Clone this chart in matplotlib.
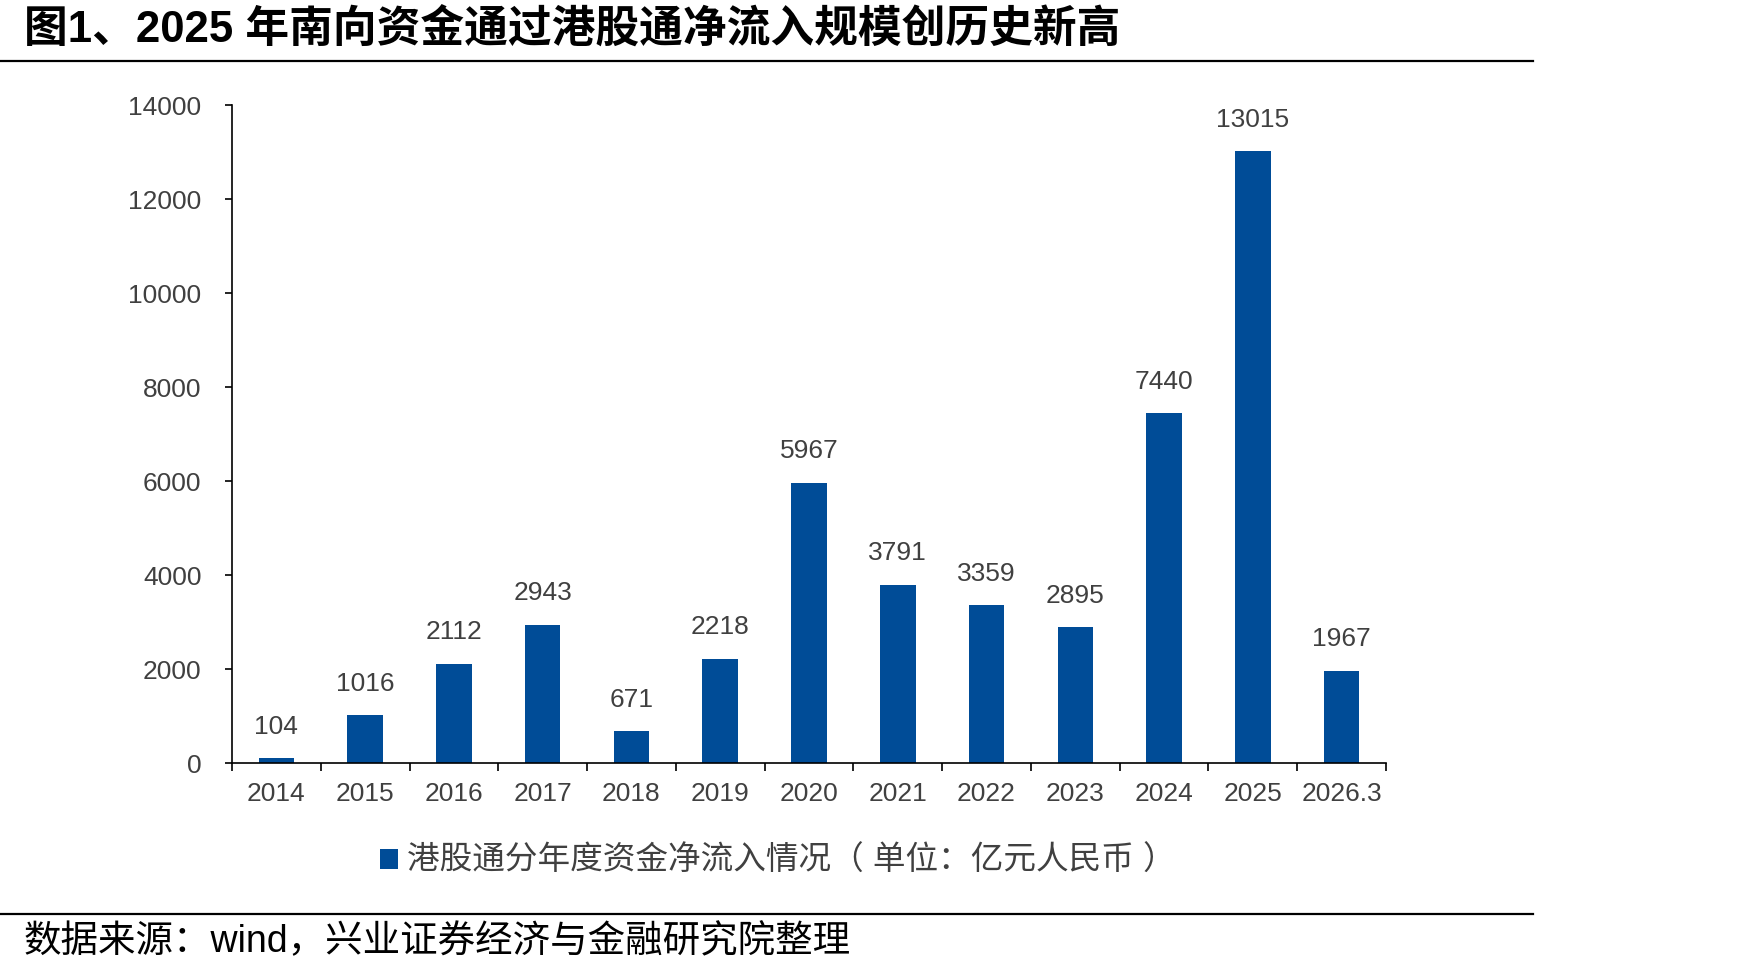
import matplotlib
matplotlib.use("Agg")
import matplotlib.pyplot as plt
from matplotlib.lines import Line2D

# data (亿元人民币)
years = ['2014', '2015', '2016', '2017', '2018', '2019', '2020',
         '2021', '2022', '2023', '2024', '2025', '2026.3']
inflow = [104, 1016, 2112, 2943, 671, 2218, 5967,
          3791, 3359, 2895, 7440, 13015, 1967]
yticks = [0, 2000, 4000, 6000, 8000, 10000, 12000, 14000]

title = '图1、2025 年南向资金通过港股通净流入规模创历史新高'
legend_label = '港股通分年度资金净流入情况（ 单位：亿元人民币 ）'
source = '数据来源：wind，兴业证券经济与金融研究院整理'

fonts = ['Liberation Sans', 'Noto Sans CJK SC']
plt.rcParams['font.family'] = fonts

bar_color = '#004C97'
grey = '#404040'

fig = plt.figure(figsize=(17.48, 9.76), dpi=100)
ax = fig.add_axes([0.1327, 0.2182, 0.6602, 0.6742])

x = list(range(len(years)))
bars = ax.bar(x, inflow, width=0.4, color=bar_color, label=legend_label)

for xi, v in zip(x, inflow):
    ax.annotate(str(v), (xi, v), xytext=(0, 14), textcoords='offset points',
                ha='center', va='bottom', fontsize=19, color=grey)

ax.set_xlim(-0.5, len(years) - 0.5)
ax.set_ylim(0, 14000)
ax.set_yticks(yticks)
ax.set_yticklabels([str(t) for t in yticks])

# category labels centred, tick marks on the boundaries
ax.set_xticks([i - 0.5 for i in range(len(years) + 1)])
ax.set_xticklabels([])
ax.set_xticks(x, minor=True)
ax.set_xticklabels(years, minor=True)
ax.tick_params(axis='x', which='major', direction='out', length=6, width=1.2, color='black')
ax.tick_params(axis='x', which='minor', length=0, pad=14, labelsize=19, labelcolor=grey)
ax.tick_params(axis='y', direction='out', length=5, width=1.2, pad=17,
               labelsize=19, labelcolor=grey)

for s in ['top', 'right']:
    ax.spines[s].set_visible(False)
for s in ['left', 'bottom']:
    ax.spines[s].set_linewidth(1.2)
    ax.spines[s].set_color('black')

leg = fig.legend(handles=[bars], labels=[legend_label], loc='center',
                 bbox_to_anchor=(0.445, 0.117), frameon=False,
                 handlelength=0.55, handleheight=0.55, handletextpad=0.3,
                 prop={'family': fonts, 'size': 23.5})
for t in leg.get_texts():
    t.set_color(grey)

fig.text(0.0137, 0.969, title, fontsize=31.5, fontweight='bold',
         ha='left', va='center', color='black')
fig.add_artist(Line2D([0, 0.877], [0.9375, 0.9375], color='black', linewidth=1.6,
                      transform=fig.transFigure))
fig.add_artist(Line2D([0, 0.877], [0.0635, 0.0635], color='black', linewidth=1.6,
                      transform=fig.transFigure))
fig.text(0.0137, 0.0348, source, fontsize=27, ha='left', va='center', color='black')

fig.savefig('out.png', dpi=100, facecolor='white')
